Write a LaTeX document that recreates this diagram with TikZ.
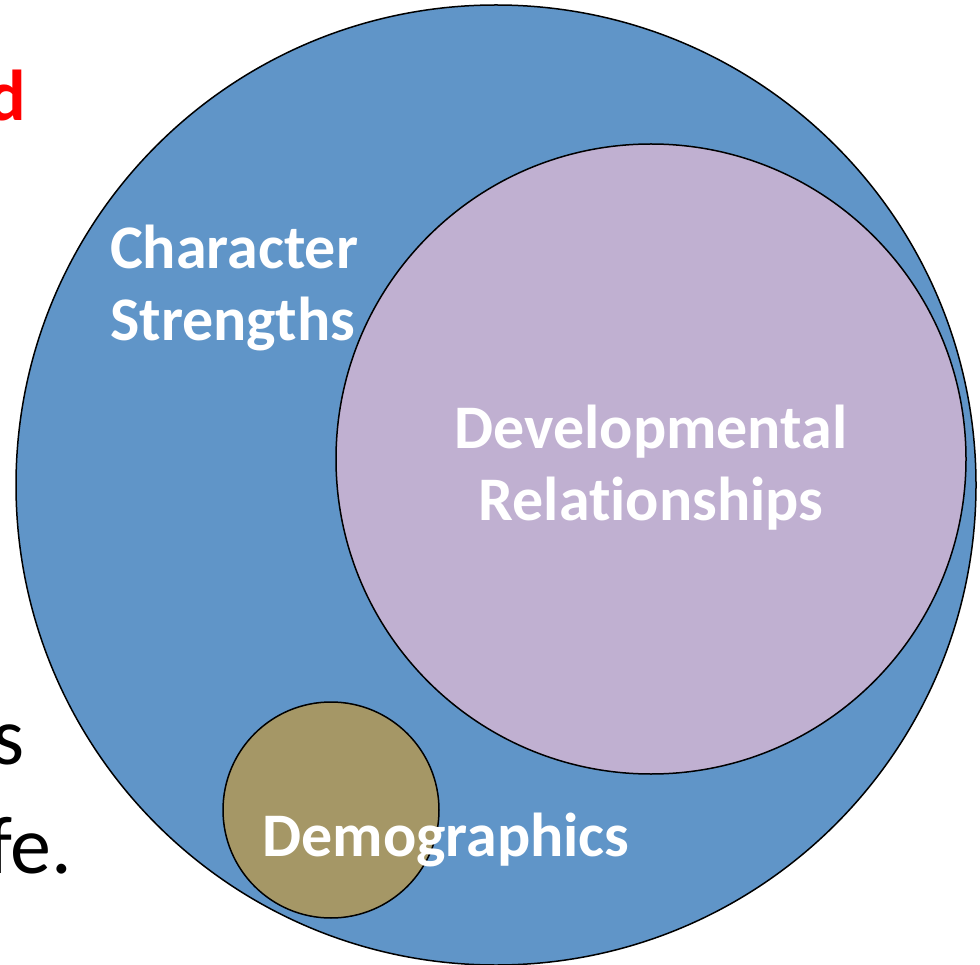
\documentclass[tikz,border=0pt]{standalone}
\usepackage{fontspec}
\setmainfont{Carlito}[Ligatures=NoCommon]
\definecolor{outerblue}{RGB}{96,149,200}
\definecolor{dvlilac}{RGB}{192,176,209}
\definecolor{demolive}{RGB}{165,151,102}
\tikzset{
  ring/.style={circle, draw=black, line width=1.5pt, inner sep=0pt},
  lbl/.style={text=white, font=\fontsize{62}{72}\selectfont\bfseries, inner sep=0pt},
  sidetext/.style={font=\fontsize{82}{98}\selectfont, inner sep=0pt, anchor=base east}
}
\begin{document}
\begin{tikzpicture}[x=1pt, y=-1pt]
   \useasboundingbox (0,0) rectangle (980,965);

   % the three circles
   \def\rbig{480};
   \def\rdev{315};
   \def\rdemo{108};
   \node[ring, fill=outerblue, minimum size=2*\rbig] (strengths) at (496,485) {};
   \node[ring, fill=dvlilac, minimum size=2*\rdev] (devrel) at (651,459) {};
   \node[ring, fill=demolive, minimum size=2*\rdemo] (demo) at (331,810) {};

   % circle labels
   \node[lbl, align=left, anchor=west] (strengthslbl) at (110,288) {Character\\Strengths};
   \node[lbl, align=center] (devrellbl) at (651,468) {Developmental\\Relationships};
   \node[lbl] (demolbl) at (446,840) {Demographics};

   % cut-off slide text at the left
   \node[sidetext, text=red, font=\fontsize{72}{86}\selectfont\bfseries] (redd) at (26,121) {d};
   \node[sidetext] (lines) at (25,764) {s};
   \node[sidetext] (life) at (72,873) {fe.};
\end{tikzpicture}
\end{document}
